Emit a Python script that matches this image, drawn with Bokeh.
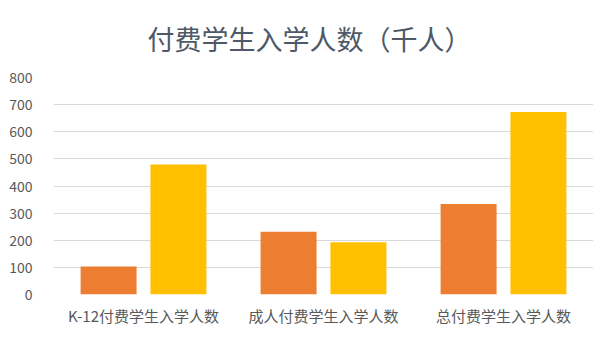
from bokeh.plotting import figure
from bokeh.models import FactorRange, Range1d, Legend, LegendItem, FixedTicker
from bokeh.transform import dodge
from bokeh.embed import file_html
from bokeh.resources import INLINE

categories = ["K-12付费学生入学人数", "成人付费学生入学人数", "总付费学生入学人数"]
series_names = ["2019年上半年", "2020年上半年"]
values_2019 = [103, 231, 334]
values_2020 = [479, 193, 673]
y_ticks = [0, 100, 200, 300, 400, 500, 600, 700, 800]

FONT = "Noto Sans CJK SC"
TEXT = "#595959"

p = figure(x_range=FactorRange(*categories), y_range=Range1d(0, 800),
           frame_width=540, frame_height=217, output_backend="svg", toolbar_location=None,
           min_border_left=53, min_border_right=0, min_border_top=77, min_border_bottom=66)
p.outline_line_color = None
p.background_fill_color = "white"

src = dict(cat=categories, v19=values_2019, v20=values_2020)
r1 = p.vbar(x=dodge("cat", -0.194, range=p.x_range), top="v19", width=0.311,
            source=src, fill_color="#ED7D31", line_color=None)
r2 = p.vbar(x=dodge("cat", 0.194, range=p.x_range), top="v20", width=0.311,
            source=src, fill_color="#FFC000", line_color=None)

p.title.text = "付费学生入学人数（千人）"
p.title.align = "left"
p.title.offset = 94
p.title.vertical_align = "top"
p.title.standoff = 36
p.title.text_font = FONT
p.title.text_font_size = "27px"
p.title.text_font_style = "normal"
p.title.text_color = "#4E5866"

p.xgrid.grid_line_color = None
p.ygrid.grid_line_color = "#D9D9D9"
p.ygrid.grid_line_width = 1
p.yaxis.ticker = FixedTicker(ticks=y_ticks)

for ax in (p.xaxis[0], p.yaxis[0]):
    ax.axis_line_color = None
    ax.major_tick_line_color = None
    ax.minor_tick_line_color = None
    ax.major_label_text_font = FONT
    ax.major_label_text_color = TEXT
p.xaxis.major_label_text_font_size = "15px"
p.xaxis.major_label_standoff = 4
p.yaxis.major_label_text_font_size = "14px"
p.yaxis.major_label_standoff = 15

legend = Legend(items=[LegendItem(label=series_names[0], renderers=[r1]),
                       LegendItem(label=series_names[1], renderers=[r2])],
                orientation="horizontal", location=(146, 2),
                padding=0, margin=0, spacing=13, label_standoff=4,
                glyph_width=8, glyph_height=8, label_height=16,
                label_text_font=FONT, label_text_font_size="15px",
                label_text_color=TEXT, border_line_color=None,
                background_fill_alpha=0)
p.add_layout(legend, "below")

open("out.html", "w").write(file_html(p, INLINE))
